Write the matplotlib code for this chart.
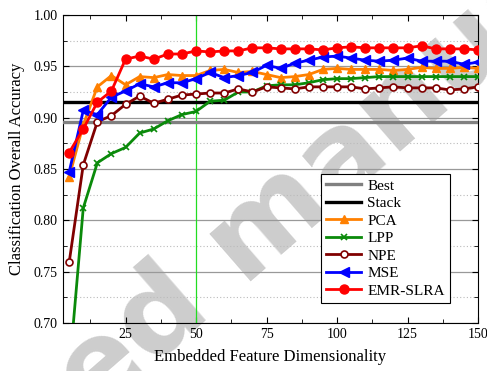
import matplotlib
matplotlib.use("Agg")
import matplotlib.pyplot as plt
import numpy as np
from matplotlib.ticker import MultipleLocator

plt.rcParams['font.family'] = ['Liberation Serif', 'DejaVu Serif']

dims = list(range(5, 155, 5))
best_acc = 0.896
stack_acc = 0.915
pca = [0.842, 0.893, 0.930, 0.941, 0.932, 0.940, 0.939, 0.942, 0.941, 0.941,
       0.946, 0.947, 0.944, 0.945, 0.942, 0.939, 0.940, 0.942, 0.947, 0.948,
       0.947, 0.947, 0.947, 0.946, 0.947, 0.949, 0.948, 0.948, 0.949, 0.948]
lpp = [0.652, 0.812, 0.856, 0.865, 0.871, 0.885, 0.889, 0.897, 0.903, 0.906,
       0.916, 0.917, 0.925, 0.925, 0.931, 0.932, 0.932, 0.934, 0.937, 0.938,
       0.938, 0.939, 0.940, 0.940, 0.940, 0.940, 0.940, 0.940, 0.940, 0.940]
npe = [0.759, 0.854, 0.896, 0.902, 0.913, 0.921, 0.914, 0.918, 0.922, 0.923,
       0.924, 0.924, 0.928, 0.925, 0.930, 0.929, 0.928, 0.930, 0.930, 0.930,
       0.930, 0.928, 0.929, 0.930, 0.929, 0.929, 0.929, 0.927, 0.928, 0.930]
mse = [0.847, 0.907, 0.903, 0.920, 0.926, 0.933, 0.930, 0.934, 0.934, 0.938,
       0.944, 0.939, 0.941, 0.944, 0.951, 0.948, 0.953, 0.956, 0.959, 0.960,
       0.958, 0.956, 0.955, 0.956, 0.958, 0.955, 0.955, 0.955, 0.952, 0.954]
emr = [0.866, 0.889, 0.915, 0.926, 0.957, 0.960, 0.957, 0.962, 0.962, 0.965,
       0.964, 0.965, 0.965, 0.968, 0.968, 0.967, 0.967, 0.967, 0.966, 0.968,
       0.969, 0.968, 0.968, 0.968, 0.968, 0.970, 0.967, 0.967, 0.967, 0.966]

fig = plt.figure(figsize=(4.87, 3.71), dpi=100)
ax = fig.add_axes([0.1287, 0.1294, 0.8528, 0.8302])

ax.set_xlim(2.7, 150)
ax.set_ylim(0.70, 1.00)

ax.xaxis.set_major_locator(MultipleLocator(25))
ax.xaxis.set_minor_locator(MultipleLocator(12.5))
ax.yaxis.set_major_locator(MultipleLocator(0.05))
ax.yaxis.set_minor_locator(MultipleLocator(0.025))
ax.yaxis.set_major_formatter(matplotlib.ticker.FormatStrFormatter('%.2f'))

ax.grid(True, axis='y', which='major', color='#999999', lw=0.9)
ax.grid(True, axis='y', which='minor', color='#bbbbbb', lw=0.8, ls=(0, (1, 2)))
ax.axvline(50, color='#22dd22', lw=0.9, zorder=1.6)

ax.tick_params(which='both', direction='in', top=True, right=True, labelsize=10)
ax.tick_params(which='major', length=4)
ax.tick_params(which='minor', length=3)

ax.axhline(best_acc, color='#808080', lw=2.4, label='Best', zorder=3)
ax.axhline(stack_acc, color='black', lw=2.4, label='Stack', zorder=3)
ax.plot(dims, pca, color='#ff8000', lw=2, marker='^', ms=6, label='PCA', zorder=4)
ax.plot(dims, lpp, color='#0a8a0a', lw=2, marker='x', ms=5, mew=1.2, label='LPP', zorder=4)
ax.plot(dims, npe, color='#800000', lw=2, marker='o', ms=5, mfc='white', mew=1.2, label='NPE', zorder=4)
ax.plot(dims, mse, color='#0000ff', lw=2, marker='<', ms=6.5, label='MSE', zorder=4)
ax.plot(dims, emr, color='#ff0000', lw=2, marker='o', ms=6.5, label='EMR-SLRA', zorder=5)

ax.set_xlabel('Embedded Feature Dimensionality', fontsize=12, labelpad=6)
ax.set_ylabel('Classification Overall Accuracy', fontsize=12, labelpad=6)

leg = ax.legend(loc='lower right', bbox_to_anchor=(0.933, 0.065), fontsize=11,
                handlelength=2.3, labelspacing=0.25, borderpad=0.35, handletextpad=0.4,
                borderaxespad=0, fancybox=False, framealpha=1, edgecolor='black')
leg.get_frame().set_linewidth(0.8)
leg.set_zorder(10)

ax.text(0.528, 0.370, 'Accepted manuscript', transform=fig.transFigure, clip_on=False,
        fontsize=83, fontweight='bold', family='DejaVu Sans', color='#c8c8c8',
        alpha=0.9, rotation=41, ha='center', va='center', rotation_mode='anchor', zorder=1.2)

fig.savefig('out.png', dpi=100)
